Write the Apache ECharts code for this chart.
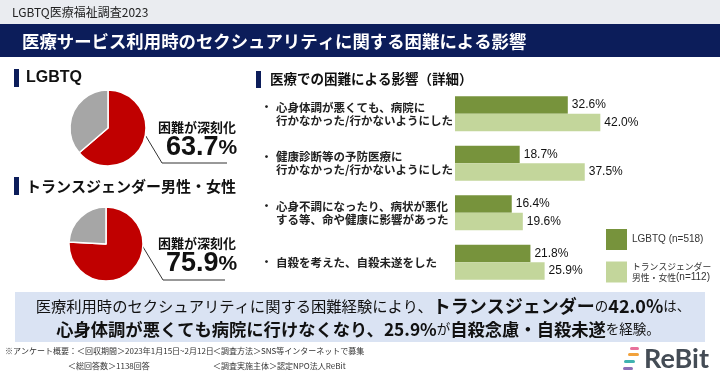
<!DOCTYPE html>
<html>
<head>
<meta charset="utf-8">
<script src="https://cdn.jsdelivr.net/npm/echarts@6/dist/echarts.min.js"></script>
<style>
html,body{margin:0;padding:0;background:#fff;}
#c{width:720px;height:378px;}
</style>
</head>
<body>
<div id="c"></div>
<script>
// ---- data ----
var categories = [
  '心身体調が悪くても、病院に\n行かなかった/行かないようにした',
  '健康診断等の予防医療に\n行かなかった/行かないようにした',
  '心身不調になったり、病状が悪化\nする等、命や健康に影響があった',
  '自殺を考えた、自殺未遂をした'
];
var seriesNames = ['LGBTQ (n=518)', 'トランスジェンダー\n男性・女性(n=112)'];
var lgbtqValues = [32.6, 18.7, 16.4, 21.8];
var transValues = [42.0, 37.5, 19.6, 25.9];
var pieHeadings = ['LGBTQ', 'トランスジェンダー男性・女性'];
var pieLabel = '困難が深刻化';
var pieLgbtq = [63.7, 36.3];
var pieTrans = [75.9, 24.1];

var JP = '"Noto Sans CJK JP", "Noto Sans", sans-serif';
var LAT = '"Liberation Sans", Arial, sans-serif';
var NAVY = '#0c1d5a';
var RED = '#c00000';
var GRAY = '#a6a6a6';
var DG = '#77933c';
var LG = '#c3d69b';

var chart = echarts.init(document.getElementById('c'), null, {renderer: 'canvas'});

function pieSeries(vals, cx, cy, r) {
  return {
    type: 'pie', center: [cx, cy], radius: r, startAngle: 90, clockwise: true,
    silent: true, animation: false,
    label: {show: false}, labelLine: {show: false},
    itemStyle: {borderColor: '#fff', borderWidth: 1.5},
    data: [
      {value: vals[0], name: pieLabel, itemStyle: {color: RED}},
      {value: vals[1], name: 'その他', itemStyle: {color: GRAY}}
    ]
  };
}

function labelFmt(v) {
  var lines = v.split('\n');
  return lines.map(function (l, i) {
    return (i === 0 ? '{d|・}' : '{s|　}') + '{t|' + l + '}';
  }).join('\n');
}

function pctRich(v) {
  return {type: 'text', style: {text: '{n|' + v.toFixed(1) + '}{p|%}', rich: {n: {font: 'bold 27px ' + LAT, fill: '#111'}, p: {font: 'bold 21px ' + LAT, fill: '#111'}}, textVerticalAlign: 'middle'}};
}

var p1 = pctRich(pieLgbtq[0]); p1.x = 166; p1.y = 148;
var p2 = pctRich(pieTrans[0]); p2.x = 166; p2.y = 264;

var graphics = [
  {type: 'rect', shape: {x: 0, y: 0, width: 720, height: 24}, style: {fill: '#eaecf0'}},
  {type: 'text', x: 12, y: 12, style: {text: 'LGBTQ医療福祉調査2023', font: '12px ' + JP, fill: '#222', textVerticalAlign: 'middle'}},
  {type: 'rect', shape: {x: 0, y: 24, width: 720, height: 33}, style: {fill: NAVY}},
  {type: 'text', x: 22, y: 41, style: {text: '医療サービス利用時のセクシュアリティに関する困難による影響', font: 'bold 17.4px ' + JP, fill: '#fff', textVerticalAlign: 'middle'}},
  // left headings
  {type: 'rect', shape: {x: 14, y: 69, width: 5, height: 18}, style: {fill: NAVY}},
  {type: 'text', x: 26, y: 78, style: {text: pieHeadings[0], font: 'bold 16px ' + LAT, fill: '#111', textVerticalAlign: 'middle'}},
  {type: 'rect', shape: {x: 14, y: 177, width: 5, height: 18}, style: {fill: NAVY}},
  {type: 'text', x: 26, y: 186, style: {text: pieHeadings[1], font: 'bold 15px ' + JP, fill: '#111', textVerticalAlign: 'middle'}},
  // right heading
  {type: 'rect', shape: {x: 256, y: 71, width: 5, height: 17}, style: {fill: NAVY}},
  {type: 'text', x: 270, y: 79, style: {text: '医療での困難による影響（詳細）', font: 'bold 13.5px ' + JP, fill: '#111', textVerticalAlign: 'middle'}},
  // pie 1 annotation
  {type: 'polyline', shape: {points: [[135, 118], [162, 163], [227, 163]]}, style: {stroke: '#333', lineWidth: 1, fill: null}},
  {type: 'text', x: 158, y: 127, style: {text: pieLabel, font: 'bold 13px ' + JP, fill: '#111', textVerticalAlign: 'middle'}},
  p1,
  // pie 2 annotation
  {type: 'polyline', shape: {points: [[137, 237], [163, 280], [225, 280]]}, style: {stroke: '#333', lineWidth: 1, fill: null}},
  {type: 'text', x: 158, y: 243, style: {text: pieLabel, font: 'bold 13px ' + JP, fill: '#111', textVerticalAlign: 'middle'}},
  p2,
  // bottom box
  {type: 'rect', shape: {x: 15, y: 292, width: 690, height: 50}, style: {fill: '#dae3f3'}},
  {type: 'text', x: 363, y: 306, style: {
    text: '{n|医療利用時のセクシュアリティに関する困難経験により、}{b|トランスジェンダー}{s|の}{b|' + transValues[0].toFixed(1) + '%}{s|は、}',
    align: 'center', verticalAlign: 'middle',
    rich: {n: {font: '15.3px ' + JP, fill: '#111'}, b: {font: 'bold 18px ' + JP, fill: '#111'}, s: {font: '13.5px ' + JP, fill: '#111'}}
  }},
  {type: 'text', x: 358, y: 329, style: {
    text: '{b|心身体調が悪くても病院に行けなくなり、' + transValues[3].toFixed(1) + '%}{s|が}{b|自殺念慮・自殺未遂}{s|を経験。}',
    align: 'center', verticalAlign: 'middle',
    rich: {b: {font: 'bold 17.3px ' + JP, fill: '#111'}, s: {font: '13.5px ' + JP, fill: '#111'}}
  }},
  // footer
  {type: 'text', x: 5, y: 351, style: {text: '※アンケート概要：＜回収期間＞2023年1月15日~2月12日', font: '8px ' + JP, fill: '#333', textVerticalAlign: 'middle'}},
  {type: 'text', x: 213, y: 351, style: {text: '＜調査方法＞SNS等インターネットで募集', font: '8px ' + JP, fill: '#333', textVerticalAlign: 'middle'}},
  {type: 'text', x: 68, y: 366, style: {text: '＜総回答数＞1138回答', font: '8px ' + JP, fill: '#333', textVerticalAlign: 'middle'}},
  {type: 'text', x: 213, y: 366, style: {text: '＜調査実施主体＞認定NPO法人ReBit', font: '8px ' + JP, fill: '#333', textVerticalAlign: 'middle'}},
  // logo
  {type: 'rect', shape: {x: 630, y: 347, width: 9, height: 3, r: 1.5}, style: {fill: '#e8709a'}},
  {type: 'rect', shape: {x: 628, y: 353, width: 11, height: 3, r: 1.5}, style: {fill: '#f2a23c'}},
  {type: 'rect', shape: {x: 624, y: 360, width: 11, height: 3, r: 1.5}, style: {fill: '#3fb3b0'}},
  {type: 'rect', shape: {x: 623, y: 367, width: 10, height: 3, r: 1.5}, style: {fill: '#8c6fb8'}},
  {type: 'text', x: 644, y: 359, style: {text: 'ReBit', font: 'bold 27px Lato, "Open Sans", sans-serif', fill: '#444c55', textVerticalAlign: 'middle'}}
];

var option = {
  backgroundColor: '#fff',
  animation: false,
  grid: {left: 455, top: 89, height: 198, width: 207.6},
  xAxis: {type: 'value', min: 0, max: 60, show: false},
  yAxis: {
    type: 'category', data: categories, inverse: true,
    axisLine: {show: false}, axisTick: {show: false}, splitLine: {show: false},
    axisLabel: {
      align: 'left', margin: 194, formatter: labelFmt,
      rich: {
        d: {width: 15, fontSize: 11, fontFamily: JP, color: '#222', fontWeight: 'bold', lineHeight: 13},
        s: {width: 15, fontSize: 11, fontFamily: JP, lineHeight: 13},
        t: {fontSize: 11.5, fontFamily: JP, color: '#222', fontWeight: 'bold', lineHeight: 13}
      }
    }
  },
  legend: {
    orient: 'vertical', left: 606, top: 229, padding: 0, itemWidth: 21, itemHeight: 21, itemGap: 11,
    icon: 'rect', selectedMode: false,
    formatter: function (name) {
      return name.split('\n').map(function (line) {
        return line.replace(/[^\x00-\x7f]+/g, function (m) { return '{j|' + m + '}'; })
                   .replace(/(^|\})([\x00-\x7c\x7e\x7f]+?)(?=\{|$)/g, function (all, pre, m) { return pre + '{a|' + m + '}'; });
      }).join('\n');
    },
    textStyle: {
      fontSize: 10, fontFamily: LAT, color: '#333', lineHeight: 11,
      rich: {
        a: {fontSize: 10, fontFamily: LAT, color: '#333', lineHeight: 11},
        j: {fontSize: 8.8, fontFamily: JP, color: '#333', lineHeight: 11}
      }
    },
    data: seriesNames
  },
  series: [
    {
      name: seriesNames[0], type: 'bar', data: lgbtqValues, barWidth: 17.5, barGap: '0%',
      itemStyle: {color: DG},
      label: {show: true, position: 'right', distance: 4, fontSize: 12, color: '#111', fontFamily: LAT,
        formatter: function (p) { return p.value.toFixed(1) + '%'; }}
    },
    {
      name: seriesNames[1], type: 'bar', data: transValues, barWidth: 17.5, barGap: '0%',
      itemStyle: {color: LG},
      label: {show: true, position: 'right', distance: 4, fontSize: 12, color: '#111', fontFamily: LAT,
        formatter: function (p) { return p.value.toFixed(1) + '%'; }}
    },
    pieSeries(pieLgbtq, 108, 128, 38),
    pieSeries(pieTrans, 106, 244, 37)
  ],
  graphic: graphics
};
chart.setOption(option);
</script>
</body>
</html>
